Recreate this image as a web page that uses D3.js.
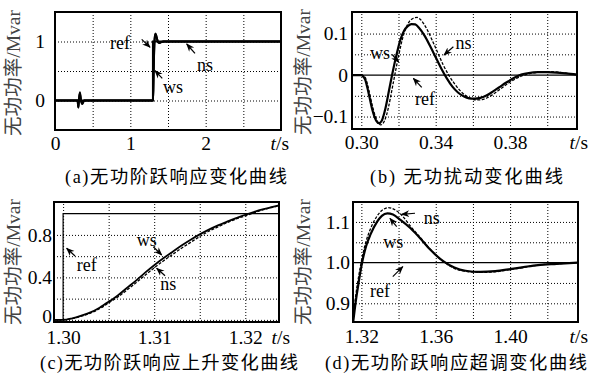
<!DOCTYPE html>
<html>
<head>
<meta charset="utf-8">
<script src="https://cdn.jsdelivr.net/npm/d3@7/dist/d3.min.js"></script>
<style>
  body { margin: 0; background: #fff; }
  svg { display: block; }
</style>
</head>
<body>
<div id="chart"></div>
<script>
// ---------- data ----------
// (a) whole step response, t in s, Q in Mvar
const aRef = [[0, 0], [1.3, 0], [1.3, 1], [3, 1]];
const aWs = [[0, 0], [0.300, 0], [0.309, -0.116], [0.317, 0.01], [0.329, 0.122], [0.345, -0.005],
  [0.362, -0.057], [0.386, 0], [1.300, 0], [1.305, 0.17], [1.310, 0.515], [1.315, 0.805],
  [1.320, 0.99], [1.327, 1.09], [1.334, 1.122], [1.346, 1.085], [1.357, 1.032], [1.364, 1.0],
  [1.384, 0.977], [1.407, 0.989], [1.437, 1.0], [3, 1]];
const aNs = [[0, 0], [0.300, 0], [0.3105, -0.12], [0.318, 0], [0.330, 0.139], [0.347, 0],
  [0.362, -0.06], [0.387, 0], [1.300, 0], [1.305, 0.16], [1.310, 0.49], [1.315, 0.785],
  [1.320, 0.98], [1.327, 1.1], [1.3345, 1.135], [1.346, 1.09], [1.357, 1.033], [1.364, 1.0],
  [1.385, 0.976], [1.407, 0.988], [1.437, 1.0], [3, 1]];

// (b) disturbance
const bRef = [[0.295, 0], [0.416, 0]];
const bWs = [[0.295, 0], [0.300, 0], [0.302, -0.01], [0.304, -0.045], [0.306, -0.085], [0.308, -0.11],
  [0.3095, -0.116], [0.311, -0.11], [0.313, -0.08], [0.315, -0.035], [0.317, 0.01], [0.319, 0.05],
  [0.321, 0.085], [0.323, 0.107], [0.325, 0.118], [0.327, 0.123], [0.329, 0.122], [0.331, 0.114],
  [0.334, 0.095], [0.337, 0.07], [0.340, 0.043], [0.343, 0.016], [0.346, -0.008], [0.349, -0.028],
  [0.352, -0.042], [0.355, -0.051], [0.358, -0.056], [0.361, -0.057], [0.364, -0.055], [0.367, -0.05],
  [0.370, -0.042], [0.374, -0.03], [0.378, -0.018], [0.382, -0.007], [0.386, 0.001], [0.390, 0.005],
  [0.395, 0.007], [0.400, 0.007], [0.405, 0.006], [0.410, 0.004], [0.416, 0.001]];
const bNs = [[0.295, 0], [0.300, 0], [0.302, -0.005], [0.304, -0.035], [0.306, -0.075], [0.308, -0.105],
  [0.3105, -0.12], [0.3125, -0.11], [0.3145, -0.08], [0.3165, -0.035], [0.318, 0], [0.320, 0.045],
  [0.322, 0.085], [0.324, 0.113], [0.326, 0.13], [0.328, 0.137], [0.330, 0.139], [0.332, 0.133],
  [0.335, 0.113], [0.338, 0.085], [0.341, 0.055], [0.344, 0.025], [0.347, 0], [0.350, -0.02],
  [0.353, -0.037], [0.356, -0.049], [0.359, -0.057], [0.362, -0.06], [0.365, -0.059], [0.368, -0.054],
  [0.371, -0.046], [0.375, -0.033], [0.379, -0.02], [0.383, -0.009], [0.387, -0.001], [0.391, 0.004],
  [0.396, 0.007], [0.401, 0.008], [0.406, 0.007], [0.411, 0.004], [0.416, 0.001]];

// (c) rising edge
const cRef = [[1.299, 0], [1.300, 0], [1.300, 1], [1.3237, 1]];
const cWs = [[1.299, 0], [1.300, 0], [1.301, 0.015], [1.302, 0.04], [1.303, 0.07], [1.304, 0.115],
  [1.305, 0.17], [1.306, 0.23], [1.307, 0.30], [1.308, 0.37], [1.309, 0.445], [1.310, 0.515],
  [1.311, 0.58], [1.312, 0.64], [1.313, 0.70], [1.314, 0.755], [1.315, 0.805], [1.316, 0.85],
  [1.317, 0.89], [1.318, 0.925], [1.319, 0.958], [1.320, 0.99], [1.321, 1.018], [1.322, 1.042],
  [1.323, 1.063], [1.3237, 1.078]];
const cNs = [[1.299, 0], [1.300, 0], [1.301, 0.012], [1.302, 0.035], [1.303, 0.064], [1.304, 0.105],
  [1.305, 0.16], [1.306, 0.215], [1.307, 0.28], [1.308, 0.35], [1.309, 0.42], [1.310, 0.49],
  [1.311, 0.555], [1.312, 0.615], [1.313, 0.675], [1.314, 0.73], [1.315, 0.785], [1.316, 0.835],
  [1.317, 0.875], [1.318, 0.915], [1.319, 0.95], [1.320, 0.98], [1.321, 1.01], [1.322, 1.038],
  [1.323, 1.06], [1.3237, 1.075]];

// (d) overshoot
const dRef = [[1.3155, 1], [1.4365, 1]];
const dWs = [[1.3155, 0.85], [1.317, 0.905], [1.3185, 0.95], [1.3204, 1.0], [1.3225, 1.04],
  [1.3248, 1.068], [1.3284, 1.10], [1.331, 1.115], [1.334, 1.121], [1.337, 1.118], [1.341, 1.105],
  [1.3463, 1.085], [1.352, 1.058], [1.357, 1.032], [1.3642, 1.003], [1.370, 0.988], [1.376, 0.98],
  [1.384, 0.977], [1.392, 0.979], [1.400, 0.984], [1.4072, 0.989], [1.415, 0.994], [1.425, 0.997],
  [1.4365, 1.0]];
const dNs = [[1.3155, 0.86], [1.317, 0.92], [1.3185, 0.965], [1.3204, 1.012], [1.3225, 1.052],
  [1.3248, 1.082], [1.3284, 1.114], [1.331, 1.128], [1.3345, 1.135], [1.338, 1.13], [1.342, 1.115],
  [1.3463, 1.09], [1.352, 1.06], [1.357, 1.033], [1.3642, 1.002], [1.370, 0.986], [1.377, 0.978],
  [1.385, 0.976], [1.393, 0.978], [1.400, 0.983], [1.4072, 0.988], [1.415, 0.994], [1.425, 0.997],
  [1.4365, 1.0]];

// ticks and grid
const aXTicks = [0, 1, 2], aYTicks = [0, 1];
const aXGrid = [0.5, 1, 1.5, 2, 2.5], aYGrid = [0, 0.5, 1];
const bXTicks = [0.30, 0.34, 0.38], bYTicks = [-0.1, 0, 0.1];
const bXGrid = [0.30, 0.32, 0.34, 0.36, 0.38, 0.40], bYGrid = [-0.1, -0.05, 0.05, 0.1];
const cXTicks = [1.30, 1.31, 1.32], cYTicks = [0, 0.4, 0.8];
const cXGrid = [1.300, 1.305, 1.310, 1.315, 1.320], cYGrid = [0, 0.2, 0.4, 0.6, 0.8];
const dXTicks = [1.32, 1.36, 1.40], dYTicks = [0.9, 1.0, 1.1];
const dXGrid = [1.32, 1.34, 1.36, 1.38, 1.40, 1.42], dYGrid = [0.9, 0.95, 1.05, 1.1];

const captions = ["(a)无功阶跃响应变化曲线", "(b) 无功扰动变化曲线",
  "(c)无功阶跃响应上升变化曲线", "(d)无功阶跃响应超调变化曲线"];
const yLabel = "无功功率/Mvar";

// annotations: label, text pos, arrow from -> to (data units)
const aNotes = [["ref", 0.863, 0.975, 1.151, 1.037, 1.261, 0.902],
  ["ws", 1.566, 0.229, 1.424, 0.376, 1.327, 0.505],
  ["ns", 1.991, 0.602, 1.858, 0.80, 1.748, 0.958]];
const bNotes = [["ws", 0.3101, 0.0525, 0.3166, 0.0496, 0.3201, 0.0315],
  ["ns", 0.3549, 0.0766, 0.3495, 0.0684, 0.3445, 0.0484],
  ["ref", 0.3343, -0.0584, 0.3325, -0.0295, 0.328, -0.0078]];
const cNotes = [["ref", 1.30259, 0.517, 1.30131, 0.601, 1.30039, 0.674],
  ["ws", 1.30918, 0.752, 1.3099, 0.689, 1.31082, 0.611],
  ["ns", 1.31155, 0.335, 1.31119, 0.416, 1.31027, 0.486]];
const dNotes = [["ns", 1.35782, 1.109, 1.34884, 1.1213, 1.34169, 1.1188],
  ["ws", 1.33717, 1.0514, 1.339, 1.0883, 1.33537, 1.1089],
  ["ref", 1.33002, 0.9302, 1.3369, 0.9654, 1.34228, 0.99]];

const serif = "'Liberation Serif', 'Times New Roman', 'Noto Sans CJK SC', serif";
const cjk = "'Liberation Serif', 'Noto Sans CJK SC', serif";

const svg = d3.select("#chart").append("svg")
  .attr("width", 591).attr("height", 378);
svg.append("rect").attr("width", 591).attr("height", 378).attr("fill", "#fff");

// arrow head
svg.append("defs").append("marker")
  .attr("id", "arr").attr("viewBox", "0 0 10 10")
  .attr("refX", 9).attr("refY", 5)
  .attr("markerWidth", 7).attr("markerHeight", 7)
  .attr("orient", "auto")
  .append("path").attr("d", "M0,1 L10,5 L0,9 L3,5 Z").attr("fill", "#000");

const panels = [
  { id: "a", box: [55, 12, 281, 130], xd: [0, 3], yd: [-0.5, 1.5],
    xt: aXTicks, yt: aYTicks, xg: aXGrid, yg: aYGrid, fmtX: d3.format("d"), fmtY: d3.format("d"),
    ref: aRef, ws: aWs, ns: aNs, notes: aNotes, yPad: 10, xPad: 6,
    cap: [65, 183, 222], yl: [13, 73, 126], ts: 289 },
  { id: "b", box: [352, 12, 577, 129], xd: [0.295, 0.416], yd: [-0.13, 0.152],
    xt: bXTicks, yt: bYTicks, xg: bXGrid, yg: bYGrid, fmtX: d3.format(".2f"),
    fmtY: d => d === 0 ? "0" : d3.format(".1f")(d).replace("-", "\u2212"),
    ref: bRef, ws: bWs, ns: bNs, notes: bNotes, yPad: 4, xPad: 6.5,
    cap: [370, 183, 193], yl: [303, 72, 126], ts: 588 },
  { id: "c", box: [54, 202, 279, 322], xd: [1.299, 1.3237], yd: [-0.02, 1.11],
    xt: cXTicks, yt: cYTicks, xg: cXGrid, yg: cYGrid, fmtX: d3.format(".2f"),
    fmtY: d => d === 0 ? "0" : d3.format(".1f")(d),
    ref: cRef, ws: cWs, ns: cNs, notes: cNotes, yPad: 2, xPad: 8,
    cap: [40, 369, 258], yl: [13, 262, 126], ts: 290 },
  { id: "d", box: [353, 202, 578, 322], xd: [1.3155, 1.4365], yd: [0.854, 1.149],
    xt: dXTicks, yt: dYTicks, xg: dXGrid, yg: dYGrid, fmtX: d3.format(".2f"), fmtY: d3.format(".1f"),
    ref: dRef, ws: dWs, ns: dNs, notes: dNotes, yPad: 3, xPad: 7.5,
    cap: [325, 369, 262], yl: [303, 262, 126], ts: 588 }
];

panels.forEach((p, i) => {
  const [x0, y0, x1, y1] = p.box;
  const x = d3.scaleLinear().domain(p.xd).range([x0, x1]);
  const y = d3.scaleLinear().domain(p.yd).range([y1, y0]);
  const g = svg.append("g");

  // dotted grid
  g.append("g").attr("transform", `translate(0,${y1})`)
    .call(d3.axisBottom(x).tickValues(p.xg).tickSize(-(y1 - y0)).tickFormat(""))
    .call(s => s.select(".domain").remove())
    .selectAll("line").attr("stroke", "#000").attr("stroke-width", 1)
    .attr("stroke-dasharray", "1,2");
  g.append("g").attr("transform", `translate(${x0},0)`)
    .call(d3.axisLeft(y).tickValues(p.yg).tickSize(-(x1 - x0)).tickFormat(""))
    .call(s => s.select(".domain").remove())
    .selectAll("line").attr("stroke", "#000").attr("stroke-width", 1)
    .attr("stroke-dasharray", "1,2");

  // tick labels
  const xa = g.append("g").attr("transform", `translate(0,${y1})`)
    .call(d3.axisBottom(x).tickValues(p.xt).tickSize(0).tickPadding(p.xPad).tickFormat(p.fmtX));
  xa.select(".domain").remove();
  xa.selectAll("text").attr("font-family", serif).attr("font-size", 19.5).attr("fill", "#000");
  const ya = g.append("g").attr("transform", `translate(${x0},0)`)
    .call(d3.axisLeft(y).tickValues(p.yt).tickSize(0).tickPadding(p.yPad).tickFormat(p.fmtY));
  ya.select(".domain").remove();
  ya.selectAll("text").attr("font-family", serif).attr("font-size", 19.5).attr("fill", "#000");
  // the zero label of (c) sits a little above its grid line
  if (p.id === "c") ya.selectAll("text").filter(d => d === 0).attr("dy", "0.12em");

  // t/s
  const ts = g.append("text").attr("x", p.ts).attr("y", y1 + p.xPad + 13.8)
    .attr("text-anchor", "end").attr("font-family", serif).attr("font-size", 19.5);
  ts.append("tspan").attr("font-style", "italic").text("t");
  ts.append("tspan").text("/s");

  // curves
  const clipId = "clip" + p.id;
  svg.append("clipPath").attr("id", clipId).append("rect")
    .attr("x", x0).attr("y", y0).attr("width", x1 - x0).attr("height", y1 - y0);
  const lin = d3.line().x(d => x(d[0])).y(d => y(d[1]));
  const smooth = d3.line().x(d => x(d[0])).y(d => y(d[1])).curve(d3.curveMonotoneX);
  const cg = g.append("g").attr("clip-path", `url(#${clipId})`);
  cg.append("path").datum(p.ref).attr("d", lin)
    .attr("fill", "none").attr("stroke", "#000").attr("stroke-width", i === 0 ? 2 : 1.2);
  cg.append("path").datum(p.ns).attr("d", smooth)
    .attr("fill", "none").attr("stroke", "#000").attr("stroke-width", i === 0 ? 2 : 1.3)
    .attr("stroke-dasharray", i === 0 ? null : "3,1.5");
  cg.append("path").datum(p.ws).attr("d", smooth)
    .attr("fill", "none").attr("stroke", "#000")
    .attr("stroke-width", i === 0 ? 2 : (p.id === "c" ? 1.8 : 2.2));

  // frame
  g.append("rect").attr("x", x0).attr("y", y0).attr("width", x1 - x0).attr("height", y1 - y0)
    .attr("fill", "none").attr("stroke", "#000").attr("stroke-width", 2);

  // annotations
  p.notes.forEach(n => {
    g.append("text").attr("x", x(n[1])).attr("y", y(n[2]))
      .attr("text-anchor", "middle").attr("dominant-baseline", "central")
      .attr("font-family", serif).attr("font-size", 18).text(n[0]);
    g.append("line").attr("x1", x(n[3])).attr("y1", y(n[4]))
      .attr("x2", x(n[5])).attr("y2", y(n[6]))
      .attr("stroke", "#000").attr("stroke-width", 1.2).attr("marker-end", "url(#arr)");
  });

  // y label
  g.append("text")
    .attr("transform", `translate(${p.yl[0]},${p.yl[1]}) rotate(-90)`)
    .attr("text-anchor", "middle").attr("dominant-baseline", "central")
    .attr("font-family", cjk).attr("font-size", 19.5).attr("fill", "#444")
    .attr("textLength", p.yl[2]).attr("lengthAdjust", "spacingAndGlyphs")
    .text(yLabel);

  // caption
  g.append("text").attr("x", p.cap[0]).attr("y", p.cap[1])
    .attr("font-family", cjk).attr("font-size", 18.3).attr("fill", "#000")
    .attr("textLength", p.cap[2]).attr("lengthAdjust", "spacing")
    .text(captions[i]);
});
</script>
</body>
</html>
